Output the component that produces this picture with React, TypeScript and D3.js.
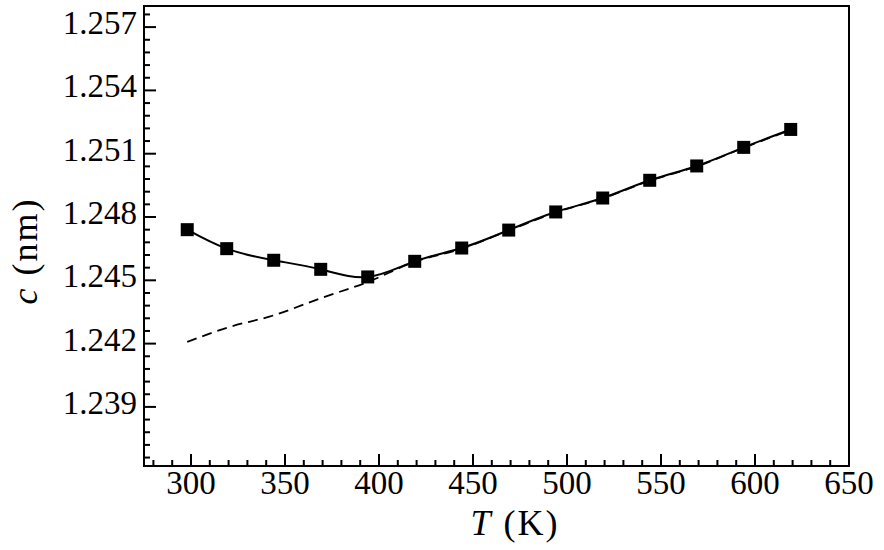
import React from "react";
import * as d3 from "d3";

const temps = [298, 319, 344, 369, 394, 419, 444, 469, 494, 519, 544, 569, 594, 619];
const cMeasured = [1.2474, 1.2465, 1.24595, 1.24552, 1.24516, 1.2459, 1.24653, 1.24738, 1.24824, 1.2489, 1.24974, 1.25042, 1.2513, 1.25215];
const cDashed = [1.24208, 1.24275, 1.24334, 1.24415, 1.24492, 1.24588, 1.2465, 1.24736, 1.24822, 1.24888, 1.24972, 1.2504, 1.25128, 1.25213];
const xTickLabels = [300, 350, 400, 450, 500, 550, 600, 650];
const yTickLabels = ["1.239", "1.242", "1.245", "1.248", "1.251", "1.254", "1.257"];

const W = 884;
const H = 550;
const left = 144, right = 849, top = 6, bottom = 466;

export default function App() {
  const x = d3.scaleLinear().domain([275, 650]).range([left, right]);
  const y = d3.scaleLinear().domain([1.2362, 1.258]).range([bottom, top]);

  const solidLine = d3.line<number>().x((_, i) => x(temps[i])).y((d) => y(d)).curve(d3.curveNatural);
  const dashLine = d3.line<number>().x((_, i) => x(temps[i])).y((d) => y(d)).curve(d3.curveMonotoneX);

  const xMinor = d3.range(280, 650.1, 10).filter((v) => v % 50 !== 0);
  const yMajorVals = yTickLabels.map(Number);
  const yMinor: number[] = [];
  for (let k = -10; k <= 40; k++) {
    const v = 1.239 + k * 0.0006;
    if (v > 1.2362 && v < 1.258 && Math.abs((k % 5)) !== 0) yMinor.push(v);
  }

  const font = "'Liberation Serif', 'Times New Roman', serif";
  const sq = 13;

  return (
    <svg width={W} height={H} style={{ position: "absolute", left: 0, top: 0, background: "#fff" }}>
      <rect x={0} y={0} width={W} height={H} fill="#fff" />
      {/* lines */}
      <path d={dashLine(cDashed) || ""} fill="none" stroke="#000" strokeWidth={1.8} strokeDasharray="10,6" />
      <path d={solidLine(cMeasured) || ""} fill="none" stroke="#000" strokeWidth={2} />
      {temps.map((t, i) => (
        <rect key={t} x={x(t) - sq / 2} y={y(cMeasured[i]) - sq / 2} width={sq} height={sq} fill="#000" />
      ))}
      {/* frame */}
      <rect x={left} y={top} width={right - left} height={bottom - top} fill="none" stroke="#000" strokeWidth={2} />
      {/* x ticks */}
      {xTickLabels.map((v) => (
        <g key={"x" + v}>
          <line x1={x(v)} x2={x(v)} y1={bottom} y2={bottom - 12} stroke="#000" strokeWidth={2} />
          <text x={x(v)} y={494} textAnchor="middle" fontFamily={font} fontSize={33} fill="#000">
            {v}
          </text>
        </g>
      ))}
      {xMinor.map((v) => (
        <line key={"xm" + v} x1={x(v)} x2={x(v)} y1={bottom} y2={bottom - 6} stroke="#000" strokeWidth={2} />
      ))}
      {/* y ticks */}
      {yMajorVals.map((v, i) => (
        <g key={"y" + i}>
          <line x1={left} x2={left + 12} y1={y(v)} y2={y(v)} stroke="#000" strokeWidth={2} />
          <text x={137} y={y(v) + 7} textAnchor="end" fontFamily={font} fontSize={33} fill="#000">
            {yTickLabels[i]}
          </text>
        </g>
      ))}
      {yMinor.map((v, i) => (
        <line key={"ym" + i} x1={left} x2={left + 6} y1={y(v)} y2={y(v)} stroke="#000" strokeWidth={2} />
      ))}
      {/* axis titles */}
      <text x={515} y={535} textAnchor="middle" fontFamily={font} fontSize={36} letterSpacing={2} fill="#000">
        <tspan fontStyle="italic">T</tspan>
        <tspan> (K)</tspan>
      </text>
      <text
        transform={`translate(37, 251) rotate(-90)`}
        textAnchor="middle"
        fontFamily={font}
        fontSize={36}
        letterSpacing={2}
        fill="#000"
      >
        <tspan fontStyle="italic">c</tspan>
        <tspan> (nm)</tspan>
      </text>
    </svg>
  );
}
